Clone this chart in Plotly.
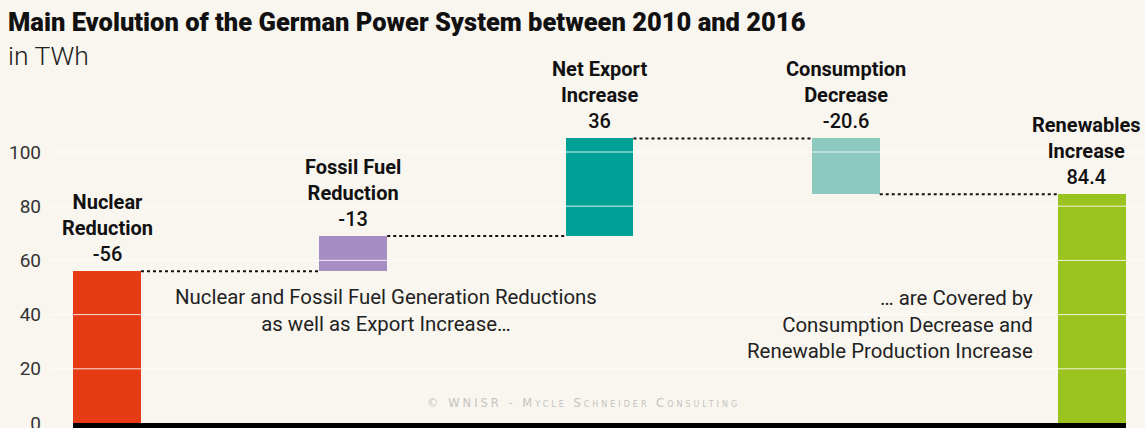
import plotly.graph_objects as go

# ---- data ----
names = ["Nuclear<br>Reduction", "Fossil Fuel<br>Reduction", "Net Export<br>Increase",
         "Consumption<br>Decrease", "Renewables<br>Increase"]
changes = [-56, -13, 36, -20.6, 84.4]
value_labels = ["-56", "-13", "36", "-20.6", "84.4"]
# contribution of each step to the running balance; last bar is the total
steps = [56, 13, 36, -20.6]
colors = ["#e63b14", "#a68dc4", "#00a096", "#8ccac0", "#9bc31f"]
y_ticks = [0, 20, 40, 60, 80, 100]

# ---- derived waterfall geometry ----
running = []
tot = 0
bases, heights = [], []
for s in steps:
    start = tot
    tot += s
    running.append(tot)
    bases.append(min(start, tot))
    heights.append(abs(s))
bases.append(0)
heights.append(tot)
xs = list(range(len(names)))
W = 0.276
tops = [b + h for b, h in zip(bases, heights)]

BG = "#f9f6f0"
FONT = "Roboto"
L, T, PW, PH = 50, 50, 1095, 378  # plot area in pixels
KY = 2.71  # px per TWh
Y0 = -5 / KY


def px_x(p):
    return (p - L) / PW


def px_y(p):
    return (T + PH - p) / PH


fig = go.Figure()
fig.add_trace(go.Bar(x=xs, y=heights, base=bases, width=W,
                     marker=dict(color=colors, line=dict(width=0)),
                     hoverinfo="skip", showlegend=False))

# dotted connectors
for i, lvl in enumerate(running):
    fig.add_trace(go.Scatter(x=[xs[i] + W / 2, xs[i + 1] - W / 2], y=[lvl, lvl],
                             mode="lines", line=dict(color="#111", width=2, dash="dot"),
                             hoverinfo="skip", showlegend=False))

shapes = []
# white gridlines above bars
for t in y_ticks[1:]:
    shapes.append(dict(type="line", xref="paper", x0=0, x1=1, yref="y", y0=t, y1=t,
                       line=dict(color="rgba(255,255,255,0.85)", width=1), layer="above"))
# black baseline
shapes.append(dict(type="rect", xref="x", x0=xs[0] - W / 2, x1=xs[-1] + W / 2,
                   yref="y", y0=Y0, y1=0, fillcolor="#000", line=dict(width=0),
                   layer="above"))

annotations = []
for i in xs:
    annotations.append(dict(
        x=xs[i], y=tops[i], xref="x", yref="y", xanchor="center", yanchor="bottom",
        yshift=3, xshift=(-6 if i == len(xs) - 1 else 0),
        text=f"<b>{names[i]}</b><br>{value_labels[i]}", showarrow=False,
        align="center", font=dict(family=FONT, size=20, color="#111", weight=500)))

annotations.append(dict(
    x=1.133, y=41.4, xref="x", yref="y", xanchor="center", yanchor="middle",
    text="Nuclear and Fossil Fuel Generation Reductions<br>as well as Export Increase…",
    showarrow=False, align="center", font=dict(family=FONT, size=20.4, color="#222")))
annotations.append(dict(
    x=3.767, y=36.3, xref="x", yref="y", xanchor="right", yanchor="middle",
    text="… are Covered by<br>Consumption Decrease and<br>Renewable Production Increase",
    showarrow=False, align="right", font=dict(family=FONT, size=20.4, color="#222")))
annotations.append(dict(
    x=1.933, y=7.4, xref="x", yref="y", xanchor="center", yanchor="middle",
    text='<span style="letter-spacing:3px">© WNISR - Mycle Schneider Consulting</span>',
    showarrow=False,
    font=dict(family="DejaVu Sans", size=11.5, color="#c6c3be", variant="small-caps")))
annotations.append(dict(
    x=px_x(6), y=px_y(55), xref="paper", yref="paper", xanchor="left", yanchor="middle",
    text="in TWh", showarrow=False,
    font=dict(family=FONT, size=26.5, color="#222", weight=300)))

fig.update_layout(
    width=1145, height=428,
    margin=dict(l=L, r=0, t=T, b=0, autoexpand=False),
    paper_bgcolor=BG, plot_bgcolor=BG,
    title=dict(text="Main Evolution of the German Power System between 2010 and 2016",
               xref="container", yref="container", x=8 / 1145, y=1 - 22 / 428,
               xanchor="left", yanchor="middle", automargin=False,
               font=dict(family=FONT, size=25.5, color="#111", weight=900)),
    xaxis=dict(range=[-57 / 246.25, (1145 - 107) / 246.25], showgrid=False,
               zeroline=False, showticklabels=False, fixedrange=True, automargin=False),
    yaxis=dict(range=[Y0, Y0 + PH / KY], tickvals=y_ticks, automargin=False,
               showgrid=False, zeroline=False, ticks="", ticklabelstandoff=8,
               ticklabeloverflow="allow",
               tickfont=dict(family=FONT, size=19, color="#333"), fixedrange=True),
    shapes=shapes, annotations=annotations,
    bargap=0,
)
fig.write_html("out.html", config={"displayModeBar": False},
               post_script="document.body.style.margin='0';document.body.style.background='%s';" % BG)
